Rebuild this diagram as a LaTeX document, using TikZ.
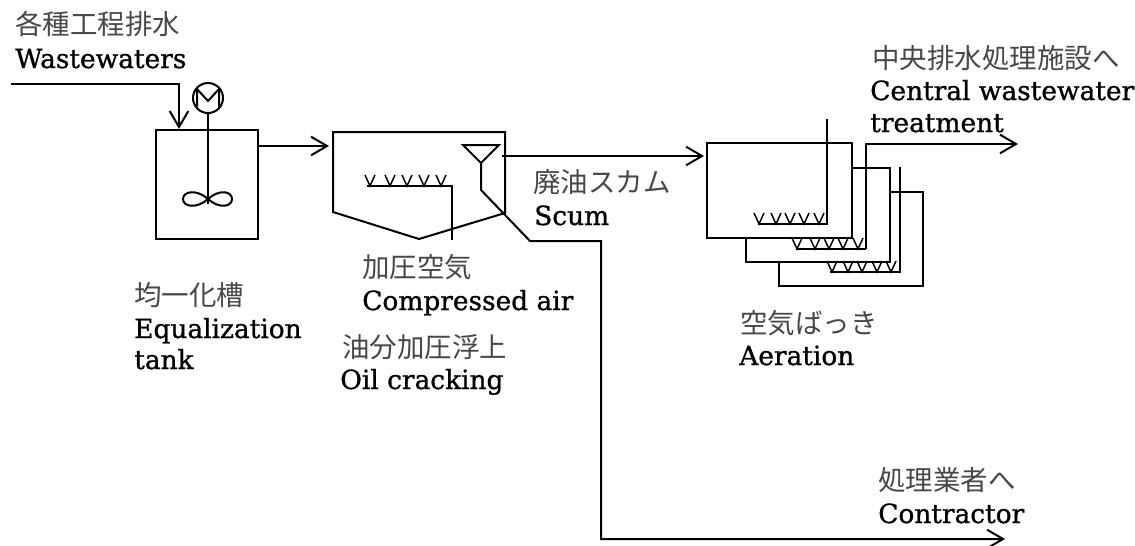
\documentclass[tikz,border=0pt]{standalone}
\usepackage{fontspec}
\newfontfamily\cjk{Noto Sans CJK JP}
\newfontfamily\enf[FakeBold=1]{DejaVu Serif}
\usetikzlibrary{arrows.meta}
\tikzset{
  pipe/.style={line width=1.5pt,line join=miter},
  flow/.style={pipe,-{Straight Barb[length=12pt,width=14pt,line width=1.5pt]}},
  jp/.style={anchor=base west,inner sep=0pt,font=\fontsize{20.6}{24}\cjk,text=black!72},
  en/.style={anchor=base west,inner sep=0pt,font=\fontsize{19.8}{26}\enf,text=black},
  spar/.style={line width=1.1pt}
}
\newcommand{\spargers}[2]{\foreach \vx in {#1}{\draw[spar] (\vx-5,#2-11) -- (\vx,#2) -- (\vx+5,#2-11);}}
\begin{document}
\begin{tikzpicture}[x=0.75pt,y=-0.75pt]
\useasboundingbox (0,0) rectangle (1135,546);
% inlet
\coordinate (inS) at (11,84);
\coordinate (inK) at (179,84);
\coordinate (inE) at (179,129);
\draw[flow] (inS) -- (inK) -- (inE);
% equalization tank
\draw[pipe] (156,130) rectangle (258,239);
\node[circle,draw,line width=1.5pt,minimum size=22.5pt,inner sep=0pt] (motor) at (208,98) {};
\draw[pipe] (197,108) -- (197,89) -- (208,101) -- (219,89) -- (219,108);
\coordinate (shaftE) at (208,204);
\draw[pipe] (motor.south) -- (shaftE);
\draw[pipe] (208,199) .. controls (197,189) and (183,191) .. (183,199) .. controls (183,207) and (197,209) .. (208,199)
  .. controls (219,189) and (232,191) .. (232,199) .. controls (232,207) and (219,209) .. (208,199);
\coordinate (eqO) at (257,146);
\coordinate (flotI) at (329,146);
\draw[flow] (eqO) -- (flotI);
% flotation tank
\draw[pipe] (333,132) -- (505,132) -- (505,213) -- (419,239) -- (333,212) -- cycle;
\draw[pipe] (463,145) -- (499,145) -- (481,163) -- cycle;
\coordinate (fun) at (481,163);
\coordinate (b1) at (481,190);
\coordinate (b2) at (530,241);
\coordinate (b3) at (601,241);
\coordinate (b4) at (601,539);
\coordinate (b5) at (1005,539);
\draw[flow] (fun) -- (b1) -- (b2) -- (b3) -- (b4) -- (b5);
\coordinate (sc1) at (502,156);
\coordinate (sc2) at (704,156);
\draw[flow] (sc1) -- (sc2);
\draw[pipe] (367,186) -- (452,186) -- (452,240);
\spargers{370,390,407,424,441}{186}
% aeration tanks
\draw[pipe] (707,143) rectangle (852,238);
\draw[pipe] (852,168) -- (890,168) -- (890,262) -- (746,262) -- (746,238);
\draw[pipe] (890,192) -- (923,192) -- (923,286) -- (779,286) -- (779,262);
\draw[pipe] (827,119) -- (827,224) -- (758,224);
\spargers{759,776,790,804,819}{224}
\coordinate (ot0) at (796,249);
\coordinate (ot1) at (866,249);
\coordinate (ot2) at (866,144);
\coordinate (ot3) at (1018,144);
\draw[pipe] (ot0) -- (ot1);
\draw[flow] (ot1) -- (ot2) -- (ot3);
\spargers{797,815,829,843,858}{249}
\draw[pipe] (900,167) -- (900,272) -- (830,272);
\spargers{832,848,862,877,891}{272}
% labels
\node[jp] (t1) at (15,34) {各種工程排水};
\node[en] (t2) at (15,68) {Wastewaters};
\node[jp] (t3) at (134,305) {均一化槽};
\node[en] (t4) at (134,338) {Equalization};
\node[en] (t5) at (134,369) {tank};
\node[jp] (t6) at (362,277) {加圧空気};
\node[en] (t7) at (362,310) {Compressed air};
\node[jp] (t8) at (342,357) {油分加圧浮上};
\node[en] (t9) at (340,389) {Oil cracking};
\node[jp] (t10) at (533,192) {廃油スカム};
\node[en] (t11) at (534,225) {Scum};
\node[jp] (t12) at (740,333) {空気ばっき};
\node[en] (t13) at (739,365) {Aeration};
\node[jp] (t14) at (872,68) {中央排水処理施設へ};
\node[en] (t15) at (870,100) {Central wastewater};
\node[en] (t16) at (870,132) {treatment};
\node[jp] (t17) at (878,490) {処理業者へ};
\node[en] (t18) at (878,523) {Contractor};
\end{tikzpicture}
\end{document}
